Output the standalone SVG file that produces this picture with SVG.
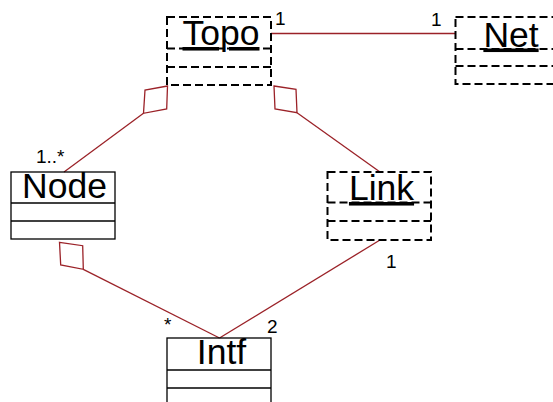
<svg xmlns="http://www.w3.org/2000/svg" width="553" height="402" viewBox="0 0 553 402">
<style>
.dash{fill:none;stroke:#000;stroke-width:2;stroke-dasharray:8 4}
.solid{fill:none;stroke:#000;stroke-width:1.3}
.name{font-family:"Liberation Sans",Arial,sans-serif;font-size:35.5px;fill:#000;text-anchor:middle}
.u{text-decoration:underline}
.lbl{font-family:"Liberation Sans",Arial,sans-serif;font-size:19px;fill:#000}
.conn{fill:none;stroke:#9b2228;stroke-width:1.3}
.dia{fill:#fff;stroke:#9b2228;stroke-width:1.3}
</style>
<rect width="553" height="402" fill="#fff"/>
<g id="connectors">
<line class="conn" x1="271" y1="33.5" x2="455" y2="33.5"/>
<polygon class="dia" points="167.5,86 145,90 143.5,113.3 166.7,109"/>
<line class="conn" x1="143.5" y1="113.3" x2="64" y2="172"/>
<polygon class="dia" points="274,86 296,89.3 297,112.7 275,109"/>
<line class="conn" x1="297" y1="112.7" x2="380" y2="172"/>
<polygon class="dia" points="59.5,242.3 82.7,245.7 83.3,269.3 60.7,265"/>
<line class="conn" x1="83.3" y1="269.3" x2="219.5" y2="338"/>
<line class="conn" x1="380" y1="240" x2="219.5" y2="338"/>
<text class="lbl" x="275" y="25">1</text>
<text class="lbl" x="431" y="25.5">1</text>
<text class="lbl" x="36" y="162.5">1..*</text>
<text class="lbl" x="164" y="330.5">*</text>
<text class="lbl" x="267" y="333">2</text>
<text class="lbl" x="386" y="267.5">1</text>
</g>
<g id="Topo">
<rect class="dash" x="167" y="17" width="104" height="68"/>
<line class="dash" x1="167" y1="48.5" x2="271" y2="48.5"/>
<line class="dash" x1="167" y1="67" x2="271" y2="67"/>
<text class="name u" x="221" y="45">Topo</text>
</g>
<g id="Net">
<rect class="dash" x="455.5" y="17" width="112" height="67"/>
<line class="dash" x1="455.5" y1="49" x2="567" y2="49"/>
<line class="dash" x1="455.5" y1="66" x2="567" y2="66"/>
<text class="name u" x="511" y="46.5">Net</text>
</g>
<g id="Node">
<rect class="solid" x="11" y="172" width="104" height="67"/>
<line class="solid" x1="11" y1="203" x2="115" y2="203"/>
<line class="solid" x1="11" y1="221" x2="115" y2="221"/>
<text class="name" x="64.5" y="197.5">Node</text>
</g>
<g id="Link">
<rect class="dash" x="327.5" y="172" width="103.5" height="68"/>
<line class="dash" x1="327.5" y1="202.5" x2="431" y2="202.5"/>
<line class="dash" x1="327.5" y1="221" x2="431" y2="221"/>
<text class="name u" x="381.5" y="200">Link</text>
</g>
<g id="Intf">
<rect class="solid" x="167" y="338" width="104" height="80"/>
<line class="solid" x1="167" y1="370" x2="271" y2="370"/>
<line class="solid" x1="167" y1="388" x2="271" y2="388"/>
<text class="name" x="221.5" y="364">Intf</text>
</g>
</svg>
